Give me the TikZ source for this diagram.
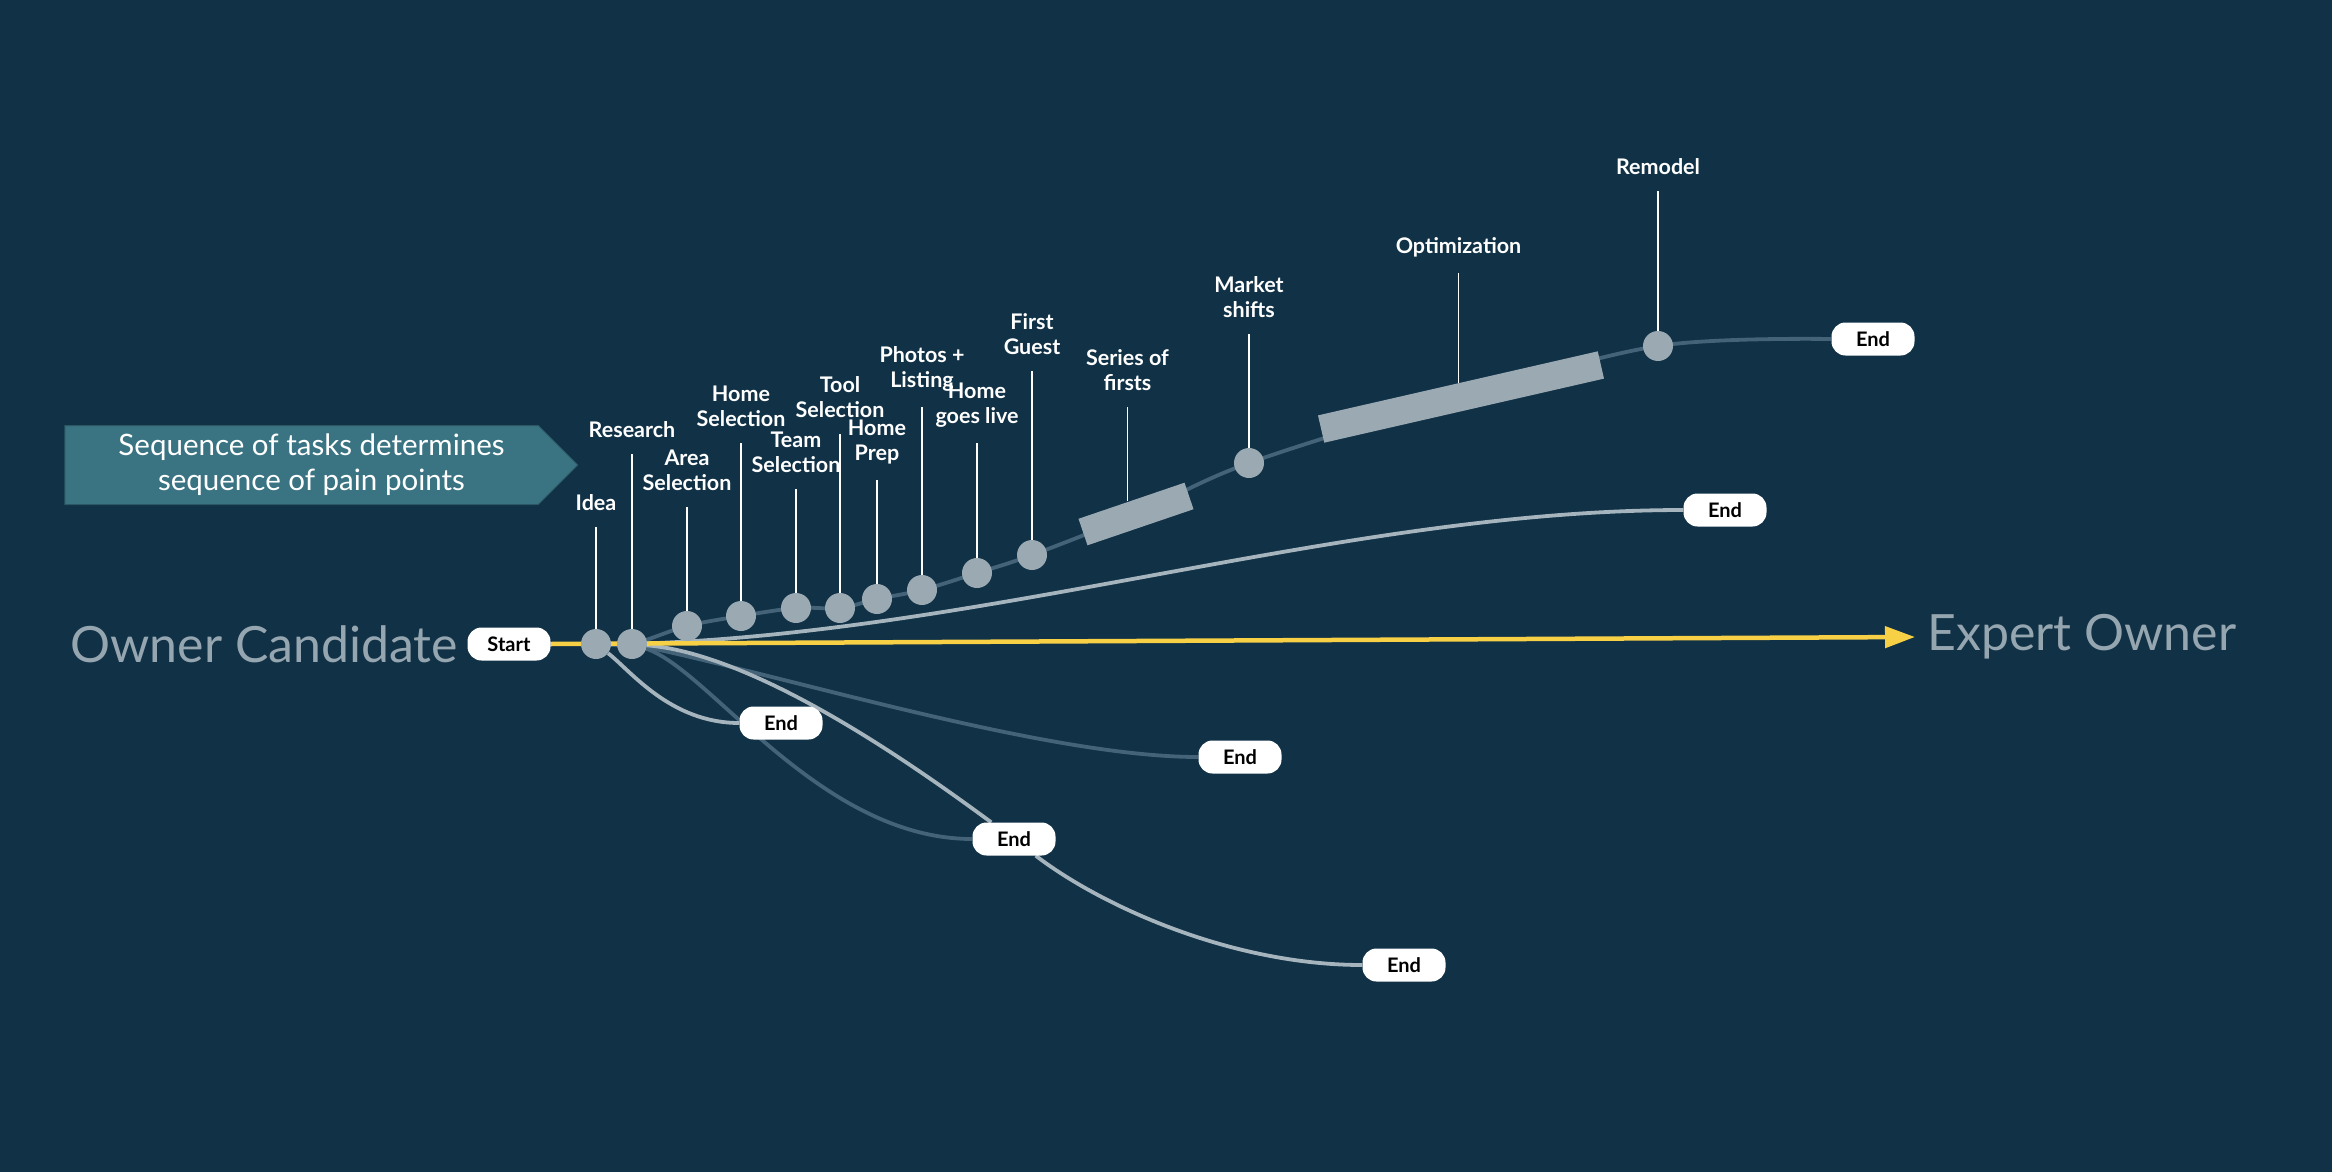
\documentclass[tikz,border=0pt]{standalone}
\usepackage{fontspec}
\setmainfont{Lato}
\usetikzlibrary{shapes.symbols,arrows.meta,positioning}

\definecolor{navy}{RGB}{16,49,70}
\definecolor{bannerteal}{RGB}{58,116,131}
\definecolor{dotgray}{RGB}{154,169,178}
\definecolor{lightline}{RGB}{166,180,189}
\definecolor{dimline}{RGB}{68,99,120}
\definecolor{goldline}{RGB}{247,208,70}
\definecolor{ownergray}{RGB}{150,166,176}

\pgfdeclarelayer{back}
\pgfsetlayers{back,main}

\begin{document}
\begin{tikzpicture}[
    x=1pt, y=-1pt,
    task/.style={circle, fill=dotgray, minimum size=30pt, inner sep=0pt},
    phase/.style={rectangle, fill=dotgray, minimum height=28pt, inner sep=0pt},
    endpill/.style={rectangle, rounded corners=14pt, fill=white, minimum width=83pt, minimum height=33pt, inner sep=0pt, text=black, font=\fontsize{20}{24}\selectfont\bfseries},
    lbl/.style={anchor=south, align=center, text=white, inner sep=0pt, outer ysep=16pt, font=\fontsize{21.5}{25}\selectfont\bfseries},
    pin/.style={white, line width=1.4pt},
    dimpath/.style={dimline, line width=3.8pt},
    lightpath/.style={lightline, line width=3.8pt},
    bigtext/.style={text=ownergray, inner sep=0pt, font=\fontsize{50}{60}\selectfont},
    banner/.style={signal, signal to=east, signal pointer angle=90, fill=bannerteal, draw=bannerteal!75!black, line width=1pt, minimum width=513pt, minimum height=79pt, inner sep=0pt, text=white, align=center, font=\fontsize{29.5}{35}\selectfont},
]
\useasboundingbox (0,0) rectangle (2332,1172);
\begin{pgfonlayer}{back}
\fill[navy] (0,0) rectangle (2332,1172);
\end{pgfonlayer}

\node[banner] (note) at (301.5,465) {\hspace*{20pt}Sequence of tasks determines\\\hspace*{20pt}sequence of pain points};

% start and end points
\node[endpill] (start) at (509,644) {Start};
\node[bigtext, left=9pt of start] (candidate) {Owner Candidate};
\node[endpill] (endA) at (1873,339) {End};
\node[endpill] (endB) at (1725,510) {End};
\node[endpill] (endC) at (781,723) {End};
\node[endpill] (endD) at (1240,757) {End};
\node[endpill] (endE) at (1014,839) {End};
\node[endpill] (endF) at (1404,965) {End};

% tasks
\node[task] (idea) at (596,644) {};
\node[task] (research) at (632,644) {};
\node[task] (area) at (687,626) {};
\node[task] (homesel) at (741,616) {};
\node[task] (team) at (796,608) {};
\node[task] (tool) at (840,608) {};
\node[task] (prep) at (877,599) {};
\node[task] (photos) at (922,590) {};
\node[task] (live) at (977,573) {};
\node[task] (guest) at (1032,555) {};
\node[phase, minimum width=112pt, rotate=18.8] (series) at (1136,514) {};
\node[task] (market) at (1249,463) {};
\node[phase, minimum width=287pt, rotate=12.9] (optim) at (1461,397) {};
\node[task] (remodel) at (1658,346) {};

% labels
\node[lbl] (lidea) at (596,527) {Idea};
\node[lbl] (lresearch) at (632,454) {Research};
\node[lbl] (larea) at (687,507) {Area\\Selection};
\node[lbl] (lhomesel) at (741,443) {Home\\Selection};
\node[lbl] (lteam) at (796,489) {Team\\Selection};
\node[lbl] (ltool) at (840,434) {Tool\\Selection};
\node[lbl] (lprep) at (877,480) {Home\\Prep};
\node[lbl] (lphotos) at (922,407) {Photos +\\Listing};
\node[lbl] (llive) at (977,443) {Home\\goes live};
\node[lbl] (lguest) at (1032,371) {First\\Guest};
\node[lbl] (lseries) at (1127.5,407) {Series of\\firsts};
\node[lbl] (lmarket) at (1249,334) {Market\\shifts};
\node[lbl] (loptim) at (1458.5,273) {Optimization};
\node[lbl] (lremodel) at (1658,191) {Remodel};

\foreach \t in {idea,research,area,homesel,team,tool,prep,photos,live,guest,market,remodel}
    \draw[pin] (l\t.south) -- (\t.north);
\draw[pin] (lseries.south) -- (lseries.south |- series.north);
\draw[pin] (loptim.south) -- (loptim.south |- optim.north);

\coordinate (goal) at (1915,637);
\node[bigtext, right=12pt of goal] (expert) {Expert Owner};

\begin{pgfonlayer}{back}
\draw[dimpath] plot[smooth, tension=0.55] coordinates {(start.east) (idea) (research) (area) (homesel) (team) (tool) (prep) (photos) (live) (guest) (series) (market) (optim) (remodel) (endA.west)};
\draw[lightpath] (research) .. controls (1000,630) and (1350,510) .. (endB.west);
\draw[dimpath] (research) .. controls (800,680) and (1050,757) .. (endD.west);
\draw[dimpath] (research) .. controls (710,670) and (820,839) .. (endE.west);
\draw[lightpath] (research) .. controls (760,655) and (920,770) .. (endE);
\draw[lightpath] (endE) .. controls (1100,905) and (1230,965) .. (endF.west);
\draw[lightpath] (idea) .. controls (630,670) and (670,723) .. (endC.west);
\draw[goldline, line width=4.5pt, -{Triangle[length=30pt, width=21pt]}] (start.east) -- (goal);
\end{pgfonlayer}
\end{tikzpicture}
\end{document}
